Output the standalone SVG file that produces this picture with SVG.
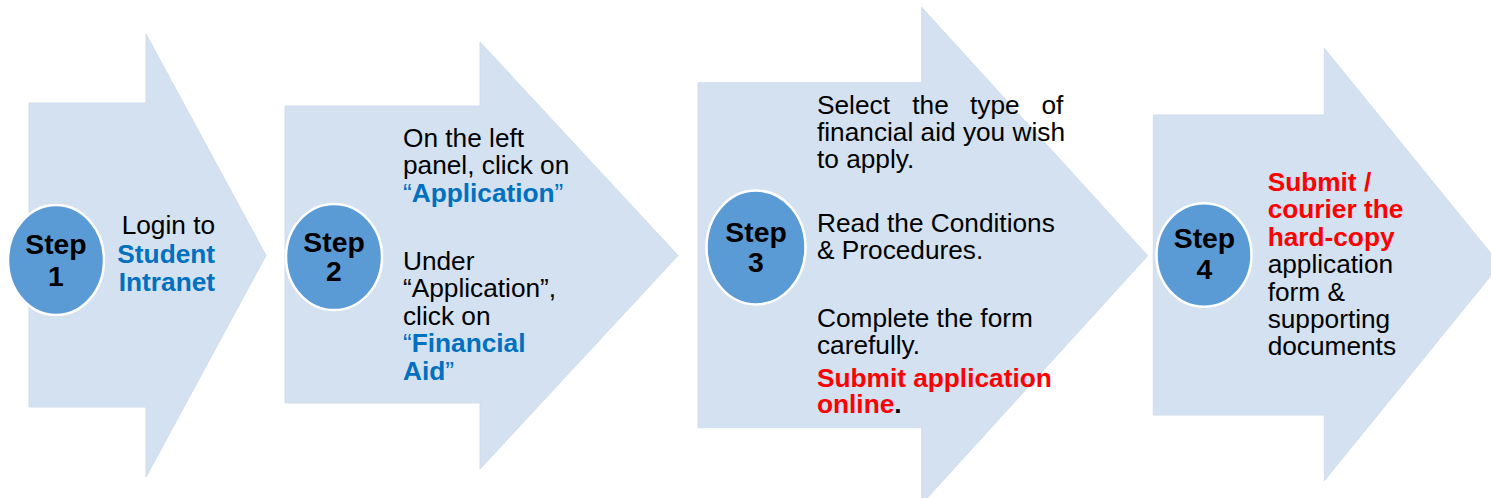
<svg xmlns="http://www.w3.org/2000/svg" width="1491" height="498" viewBox="0 0 1491 498">
<style>
.arrow{fill:#d4e1f0;stroke:#d0dcec;stroke-width:1}
.badge{fill:#5b9bd5;stroke:#ffffff;stroke-width:2.5}
text{font-family:"Liberation Sans",Arial,sans-serif;font-size:25px;fill:#000}
.st{font-size:27px;font-weight:bold;text-anchor:middle}
.b{font-weight:bold}
.blue{fill:#0070c0}
.red{fill:#ff0000}
</style>
<rect width="1491" height="498" fill="#ffffff"/>
<g id="step1">
<polygon class="arrow" points="29,103 146,103 146,34 266,255.5 146,477 146,407 29,407"/>
<ellipse class="badge" cx="56" cy="260" rx="48" ry="55"/>
<g transform="scale(1.05 1)">
<text class="st" x="53.3" y="254">Step</text>
<text class="st" x="53.3" y="286">1</text>
<text x="204.8" y="234" text-anchor="end">Login to</text>
<text x="204.8" y="263" text-anchor="end" class="b blue">Student</text>
<text x="204.8" y="291" text-anchor="end" class="b blue">Intranet</text>
</g>
</g>
<g id="step2">
<polygon class="arrow" points="285,106 480,106 480,42 678,255.5 480,469 480,403 285,403"/>
<ellipse class="badge" cx="334" cy="257" rx="48" ry="53"/>
<g transform="scale(1.05 1)">
<text class="st" x="318.1" y="252">Step</text>
<text class="st" x="318.1" y="281">2</text>
<text x="383.8" y="147">On the left</text>
<text x="383.8" y="174.5">panel, click on</text>
<text x="383.8" y="202"><tspan class="blue">“</tspan><tspan class="b blue">Application</tspan><tspan class="blue">”</tspan></text>
<text x="383.8" y="270">Under</text>
<text x="383.8" y="297.5">“Application”,</text>
<text x="383.8" y="325">click on</text>
<text x="383.8" y="352.5"><tspan class="blue">“</tspan><tspan class="b blue">Financial</tspan></text>
<text x="383.8" y="380"><tspan class="b blue">Aid</tspan><tspan class="blue">”</tspan></text>
</g>
</g>
<g id="step3">
<polygon class="arrow" points="698,82.7 921.7,82.7 921.7,7.3 1147.7,255.7 921.7,504 921.7,427.7 698,427.7"/>
<ellipse class="badge" cx="756" cy="247.5" rx="49.5" ry="57"/>
<g transform="scale(1.05 1)">
<text class="st" x="720" y="241.7">Step</text>
<text class="st" x="720" y="271.7">3</text>
<text x="778.1" y="114">Select</text>
<text x="868.9" y="114">the</text>
<text x="923.8" y="114">type</text>
<text x="1012.7" y="114" text-anchor="end">of</text>
<text x="778.1" y="141.3">financial aid you wish</text>
<text x="778.1" y="168.5">to apply.</text>
<text x="778.1" y="231.7">Read the Conditions</text>
<text x="778.1" y="259.3">&amp; Procedures.</text>
<text x="778.1" y="326.7">Complete the form</text>
<text x="778.1" y="354">carefully.</text>
<text x="778.1" y="386.7" class="b red">Submit application</text>
<text x="778.1" y="413.3" class="b"><tspan class="red">online</tspan>.</text>
</g>
</g>
<g id="step4">
<polygon class="arrow" points="1153.3,115 1324.3,115 1324.3,48.3 1500,264.5 1324.3,480.7 1324.3,415 1153.3,415"/>
<ellipse class="badge" cx="1204" cy="255" rx="47.5" ry="51.7"/>
<g transform="scale(1.05 1)">
<text class="st" x="1147.1" y="248.3">Step</text>
<text class="st" x="1147.1" y="279.3">4</text>
<text x="1207.3" y="190.7" class="b red">Submit /</text>
<text x="1207.3" y="218.3" class="b red">courier the</text>
<text x="1207.3" y="246" class="b red">hard-copy</text>
<text x="1207.3" y="273.3">application</text>
<text x="1207.3" y="300.7">form &amp;</text>
<text x="1207.3" y="327.7">supporting</text>
<text x="1207.3" y="355">documents</text>
</g>
</g>
<g id="connectors"></g>
</svg>
